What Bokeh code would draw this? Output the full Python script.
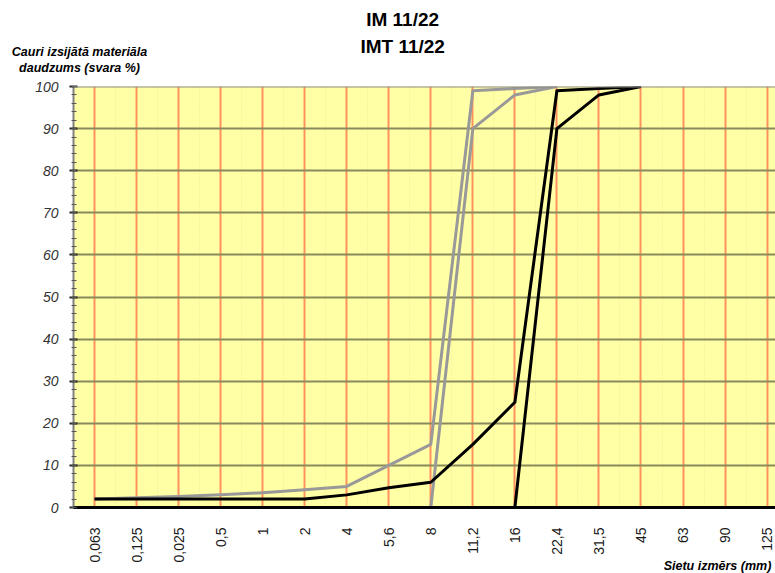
from bokeh.plotting import figure
from bokeh.models import FixedTicker, Label, Span
from bokeh.embed import file_html
from bokeh.resources import INLINE

# ---- data ----
sieves = ["0,063", "0,125", "0,025", "0,5", "1", "2", "4", "5,6", "8",
          "11,2", "16", "22,4", "31,5", "45", "63", "90", "125"]

# IM 11/22 envelope (grey)
im_upper = [2, 2.3, 2.6, 3, 3.5, 4.2, 5, 10, 15, 99, 99.5, 100]
im_lower = [0, 0, 0, 0, 0, 0, 0, 0, 0, 90, 98, 100]

# IMT 11/22 envelope (black)
imt_upper = [2, 2, 2, 2, 2, 2, 3, 4.7, 6, 15, 25, 99, 99.5, 100]
imt_lower = [0, 0, 0, 0, 0, 0, 0, 0, 0, 0, 0, 90, 98, 100]

y_ticks = [0, 10, 20, 30, 40, 50, 60, 70, 80, 90, 100]

title_lines = ["IM 11/22", "IMT 11/22"]
y_title = ["Cauri izsijātā materiāla", "daudzums (svara %)"]
x_title = "Sietu izmērs (mm)"

FONT = "Liberation Sans"

p = figure(width=775, height=573, x_range=(-0.5, 16.2), y_range=(0, 100),
           output_backend="svg", toolbar_location=None,
           min_border_left=73, min_border_top=86, min_border_bottom=66,
           min_border_right=0)
p.background_fill_color = "#ffffa6"
p.border_fill_color = "white"
p.outline_line_color = None

idx = list(range(len(sieves)))

# grids
p.xaxis.ticker = FixedTicker(ticks=idx, minor_ticks=[i + 0.5 for i in idx])
p.yaxis.ticker = FixedTicker(ticks=y_ticks, minor_ticks=list(range(0, 101, 2)))
p.xgrid.grid_line_color = "#ff9060"
p.xgrid.grid_line_width = 2
p.xgrid.minor_grid_line_color = "#ece6a0"
p.xgrid.minor_grid_line_dash = "1 2"
p.xgrid.minor_grid_line_width = 1
p.ygrid.grid_line_color = "#8a8a5c"
p.ygrid.grid_line_width = 2

p.add_layout(Span(location=100, dimension="width", line_color="#8c8c8c", line_width=2))

# lines
lw = 3
p.line(idx[:len(im_upper)], im_upper, line_color="#999999", line_width=lw, line_join="round")
p.line(idx[:len(im_lower)], im_lower, line_color="#999999", line_width=lw, line_join="round")
p.line(idx[:len(imt_upper)], imt_upper, line_color="black", line_width=lw, line_join="round")
p.line(idx[:len(imt_lower)], imt_lower, line_color="black", line_width=lw, line_join="round")

# x axis
xa = p.xaxis[0]
xa.major_label_overrides = {i: s for i, s in enumerate(sieves)}
xa.major_label_orientation = 3.14159265 / 2
xa.major_label_text_font = FONT
xa.major_label_text_font_size = "14px"
xa.major_label_text_color = "#1a1a1a"
xa.major_label_standoff = 16
xa.major_tick_out = 0
xa.major_tick_in = 0
xa.minor_tick_line_color = None
xa.axis_line_color = "black"
xa.axis_line_width = 3

# y axis
ya = p.yaxis[0]
ya.major_label_text_font = FONT
ya.major_label_text_font_style = "italic"
ya.major_label_text_font_size = "14px"
ya.major_label_text_color = "#333333"
ya.major_label_standoff = 11
ya.axis_line_color = "#808080"
ya.axis_line_width = 2
ya.major_tick_line_color = "#222222"
ya.major_tick_line_width = 2
ya.major_tick_out = 4
ya.major_tick_in = 4
ya.minor_tick_line_color = "#555555"
ya.minor_tick_out = 2
ya.minor_tick_in = 3

# titles: labels placed in a side panel (not clipped to the frame); positions in data units
for txt, yy in zip(title_lines, [115.9, 109.5]):
    p.add_layout(Label(x=7.33, y=yy, text=txt, text_align="center", text_baseline="middle",
                       text_font=FONT, text_font_style="bold",
                       text_font_size="19px", text_color="black"), "above")
for txt, yy in zip(y_title, [108.3, 104.5]):
    p.add_layout(Label(x=-0.357, y=yy, text=txt, text_align="center", text_baseline="middle",
                       text_font=FONT, text_font_style="bold italic",
                       text_font_size="12.5px", text_color="black"), "above")
p.add_layout(Label(x=16.1, y=-13.8, text=x_title, text_align="right", text_baseline="middle",
                   text_font=FONT, text_font_style="bold italic",
                   text_font_size="12.5px", text_color="black"), "above")

open("out.html", "w").write(file_html(p, INLINE))
